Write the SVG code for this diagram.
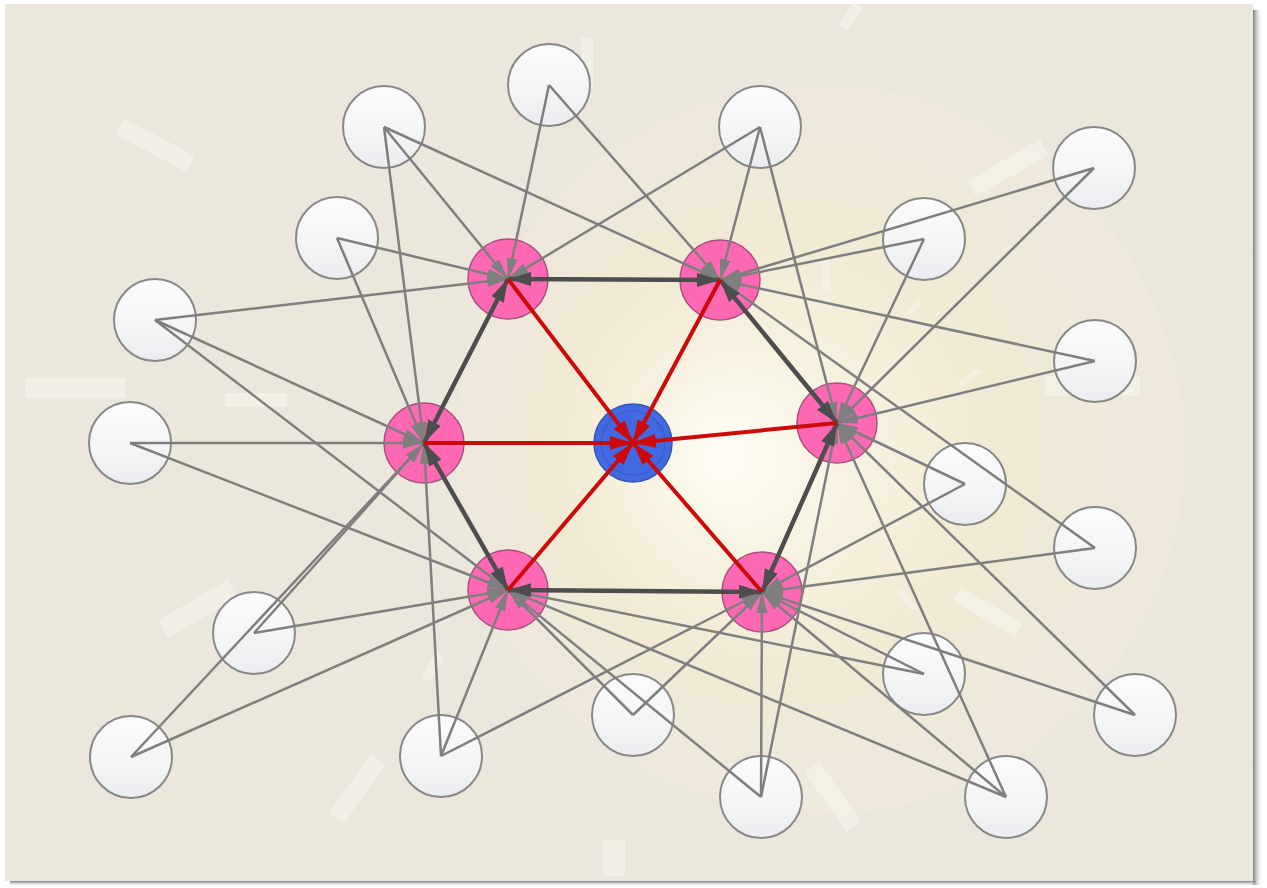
<svg xmlns="http://www.w3.org/2000/svg" width="1267" height="888" viewBox="0 0 1267 888">
<defs>
<style>
.bg{fill:#ebe7dd}
.ray{fill:#f5f2e9;opacity:0.7}
.band{fill:#f3eedb;opacity:0.35}
.w circle{fill:url(#wg);stroke:#888;stroke-width:2}
.p circle{fill:#ff69b4;stroke:#a8507e;stroke-width:1.5}
.g{stroke:#7f7f7f;stroke-width:2.5;fill:none;marker-end:url(#ag)}
.d{stroke:#4d4d4d;stroke-width:4.5;fill:none;marker-start:url(#ad);marker-end:url(#ad)}
.r{stroke:#cc0a0a;stroke-width:4;fill:none;marker-end:url(#ar)}
</style>
<linearGradient id="wg" x1="0" y1="0" x2="0" y2="1">
<stop offset="0" stop-color="#fcfcfc"/><stop offset="0.6" stop-color="#f4f4f5"/><stop offset="1" stop-color="#eaecef"/>
</linearGradient>
<radialGradient id="glow" cx="810" cy="450" r="360" fx="720" fy="460" gradientUnits="userSpaceOnUse">
<stop offset="0" stop-color="#fffdf5"/><stop offset="0.3" stop-color="#f7f2e0"/><stop offset="0.65" stop-color="#f0e9d2" stop-opacity="0.8"/><stop offset="1" stop-color="#ebe7dd" stop-opacity="0"/>
</radialGradient>
<linearGradient id="shR" x1="0" y1="0" x2="1" y2="0"><stop offset="0" stop-color="#808080"/><stop offset="1" stop-color="#fff" stop-opacity="0"/></linearGradient>
<linearGradient id="shB" x1="0" y1="0" x2="0" y2="1"><stop offset="0" stop-color="#808080"/><stop offset="1" stop-color="#fff" stop-opacity="0"/></linearGradient>
<marker id="ag" markerUnits="userSpaceOnUse" markerWidth="22" markerHeight="12" refX="21" refY="6" orient="auto"><path d="M0,0.5 L21,6 L0,11.5 z" fill="#7f7f7f"/></marker>
<marker id="ad" markerUnits="userSpaceOnUse" markerWidth="24" markerHeight="16" refX="23" refY="8" orient="auto-start-reverse"><path d="M0,1 L23,8 L0,15 z" fill="#4d4d4d"/></marker>
<marker id="ar" markerUnits="userSpaceOnUse" markerWidth="24" markerHeight="16" refX="23" refY="8" orient="auto"><path d="M0,1 L23,8 L0,15 z" fill="#cc0a0a"/></marker>
</defs>
<rect width="1267" height="888" fill="#ffffff"/>
<rect x="1253" y="10" width="10" height="875" fill="url(#shR)"/>
<rect x="10" y="881" width="1246" height="6" fill="url(#shB)"/>
<rect class="bg" x="5" y="4" width="1248" height="877"/>
<g id="background">
<circle class="band" cx="820" cy="450" r="365"/>
<circle class="band" cx="810" cy="450" r="300"/>
<circle class="band" cx="800" cy="450" r="235"/>
<circle cx="810" cy="450" r="360" fill="url(#glow)"/>
<rect class="ray" x="-40" y="-9" width="80" height="18" transform="translate(155,145) rotate(28)"/>
<rect class="ray" x="25" y="378" width="100" height="20"/>
<rect class="ray" x="225" y="393" width="62" height="14" opacity="0.5"/>
<rect class="ray" x="-14" y="-5" width="28" height="10" transform="translate(851,16) rotate(-55)"/>
<rect class="ray" x="-42" y="-9" width="84" height="18" transform="translate(1008,168) rotate(-30)"/>
<rect class="ray" x="822" y="260" width="8" height="32"/>
<rect class="ray" x="-10" y="-3" width="20" height="6" transform="translate(914,308) rotate(-55)"/>
<rect class="ray" x="-12" y="-3" width="24" height="6" transform="translate(970,377) rotate(-35)"/>
<rect class="ray" x="-11" y="-3" width="22" height="6" transform="translate(672,368) rotate(40)"/>
<rect class="ray" x="-11" y="-3" width="22" height="6" transform="translate(688,536) rotate(-40)"/>
<rect class="ray" x="-40" y="-10" width="80" height="20" transform="translate(198,609) rotate(-30)"/>
<rect class="ray" x="-36" y="-9" width="72" height="18" transform="translate(357,789) rotate(-55)"/>
<rect class="ray" x="-36" y="-9" width="72" height="18" transform="translate(833,797) rotate(55)"/>
<rect class="ray" x="603" y="840" width="22" height="36"/>
<rect class="ray" x="581" y="38" width="12" height="50" opacity="0.45"/>
<rect class="ray" x="-36" y="-8" width="72" height="16" transform="translate(988,612) rotate(30)" opacity="0.5"/>
<rect class="ray" x="-14" y="-5" width="28" height="10" transform="translate(433,667) rotate(-60)" opacity="0.5"/>
<rect class="ray" x="1045" y="376" width="95" height="20" opacity="0.45"/>
<rect class="ray" x="-12" y="-3" width="24" height="6" transform="translate(907,600) rotate(55)" opacity="0.5"/>
</g>
<g id="n-center"><circle cx="633" cy="443" r="39" fill="#4169e1" stroke="#3556b8" stroke-width="1.5"/><circle cx="633" cy="443" r="32" fill="none" stroke="#3a5fcc" stroke-width="1.5"/></g>
<g id="n-p1" class="p"><circle cx="508" cy="279" r="40"/></g>
<g id="n-p2" class="p"><circle cx="720" cy="280" r="40"/></g>
<g id="n-p3" class="p"><circle cx="837" cy="423" r="40"/></g>
<g id="n-p4" class="p"><circle cx="762" cy="592" r="40"/></g>
<g id="n-p5" class="p"><circle cx="508" cy="590" r="40"/></g>
<g id="n-p6" class="p"><circle cx="424" cy="443" r="40"/></g>
<g id="n-w1" class="w"><circle cx="549" cy="85" r="41"/></g>
<g id="n-w2" class="w"><circle cx="384" cy="127" r="41"/></g>
<g id="n-w3" class="w"><circle cx="760" cy="127" r="41"/></g>
<g id="n-w4" class="w"><circle cx="1094" cy="168" r="41"/></g>
<g id="n-w5" class="w"><circle cx="337" cy="238" r="41"/></g>
<g id="n-w6" class="w"><circle cx="924" cy="239" r="41"/></g>
<g id="n-w7" class="w"><circle cx="155" cy="320" r="41"/></g>
<g id="n-w8" class="w"><circle cx="1095" cy="361" r="41"/></g>
<g id="n-w9" class="w"><circle cx="130" cy="443" r="41"/></g>
<g id="n-w10" class="w"><circle cx="965" cy="484" r="41"/></g>
<g id="n-w11" class="w"><circle cx="1095" cy="548" r="41"/></g>
<g id="n-w12" class="w"><circle cx="254" cy="633" r="41"/></g>
<g id="n-w13" class="w"><circle cx="924" cy="674" r="41"/></g>
<g id="n-w14" class="w"><circle cx="633" cy="715" r="41"/></g>
<g id="n-w15" class="w"><circle cx="1135" cy="715" r="41"/></g>
<g id="n-w16" class="w"><circle cx="131" cy="757" r="41"/></g>
<g id="n-w17" class="w"><circle cx="441" cy="756" r="41"/></g>
<g id="n-w18" class="w"><circle cx="761" cy="797" r="41"/></g>
<g id="n-w19" class="w"><circle cx="1006" cy="797" r="41"/></g>
<g id="connectors">
<line class="g" x1="549" y1="85" x2="508" y2="279"/>
<line class="g" x1="549" y1="85" x2="720" y2="280"/>
<line class="g" x1="384" y1="127" x2="508" y2="279"/>
<line class="g" x1="384" y1="127" x2="720" y2="280"/>
<line class="g" x1="384" y1="127" x2="424" y2="443"/>
<line class="g" x1="760" y1="127" x2="508" y2="279"/>
<line class="g" x1="760" y1="127" x2="720" y2="280"/>
<line class="g" x1="760" y1="127" x2="837" y2="423"/>
<line class="g" x1="1094" y1="168" x2="720" y2="280"/>
<line class="g" x1="1094" y1="168" x2="837" y2="423"/>
<line class="g" x1="337" y1="238" x2="508" y2="279"/>
<line class="g" x1="337" y1="238" x2="424" y2="443"/>
<line class="g" x1="924" y1="239" x2="720" y2="280"/>
<line class="g" x1="924" y1="239" x2="837" y2="423"/>
<line class="g" x1="155" y1="320" x2="508" y2="279"/>
<line class="g" x1="155" y1="320" x2="424" y2="443"/>
<line class="g" x1="155" y1="320" x2="508" y2="590"/>
<line class="g" x1="1095" y1="361" x2="720" y2="280"/>
<line class="g" x1="1095" y1="361" x2="837" y2="423"/>
<line class="g" x1="130" y1="443" x2="424" y2="443"/>
<line class="g" x1="130" y1="443" x2="508" y2="590"/>
<line class="g" x1="965" y1="484" x2="837" y2="423"/>
<line class="g" x1="965" y1="484" x2="762" y2="592"/>
<line class="g" x1="1095" y1="548" x2="720" y2="280"/>
<line class="g" x1="1095" y1="548" x2="762" y2="592"/>
<line class="g" x1="254" y1="633" x2="508" y2="590"/>
<line class="g" x1="254" y1="633" x2="424" y2="443"/>
<line class="g" x1="924" y1="674" x2="762" y2="592"/>
<line class="g" x1="924" y1="674" x2="508" y2="590"/>
<line class="g" x1="633" y1="715" x2="762" y2="592"/>
<line class="g" x1="633" y1="715" x2="508" y2="590"/>
<line class="g" x1="1135" y1="715" x2="837" y2="423"/>
<line class="g" x1="1135" y1="715" x2="762" y2="592"/>
<line class="g" x1="131" y1="757" x2="424" y2="443"/>
<line class="g" x1="131" y1="757" x2="508" y2="590"/>
<line class="g" x1="441" y1="756" x2="424" y2="443"/>
<line class="g" x1="441" y1="756" x2="508" y2="590"/>
<line class="g" x1="441" y1="756" x2="762" y2="592"/>
<line class="g" x1="761" y1="797" x2="762" y2="592"/>
<line class="g" x1="761" y1="797" x2="837" y2="423"/>
<line class="g" x1="761" y1="797" x2="508" y2="590"/>
<line class="g" x1="1006" y1="797" x2="837" y2="423"/>
<line class="g" x1="1006" y1="797" x2="762" y2="592"/>
<line class="g" x1="1006" y1="797" x2="508" y2="590"/>
<line class="d" x1="508" y1="279" x2="720" y2="280"/>
<line class="d" x1="720" y1="280" x2="837" y2="423"/>
<line class="d" x1="837" y1="423" x2="762" y2="592"/>
<line class="d" x1="762" y1="592" x2="508" y2="590"/>
<line class="d" x1="508" y1="590" x2="424" y2="443"/>
<line class="d" x1="424" y1="443" x2="508" y2="279"/>
<line class="r" x1="508" y1="279" x2="633" y2="443"/>
<line class="r" x1="720" y1="280" x2="633" y2="443"/>
<line class="r" x1="837" y1="423" x2="633" y2="443"/>
<line class="r" x1="762" y1="592" x2="633" y2="443"/>
<line class="r" x1="508" y1="590" x2="633" y2="443"/>
<line class="r" x1="424" y1="443" x2="633" y2="443"/>
</g>
</svg>
